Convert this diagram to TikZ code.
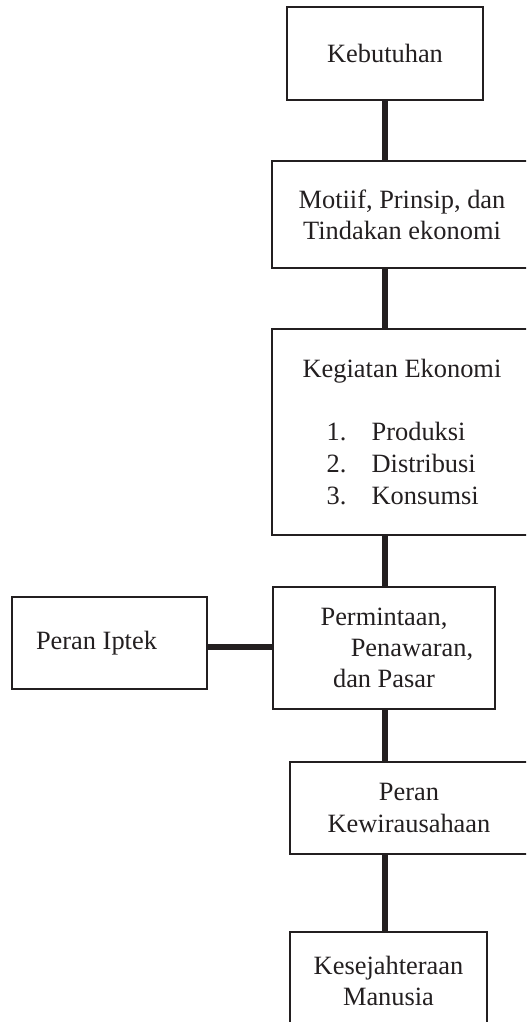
\documentclass[tikz,border=0pt]{standalone}
\usepackage{fontspec}
\setmainfont{Liberation Serif}
\definecolor{ink}{RGB}{35,31,32}
\begin{document}
\begin{tikzpicture}[x=0.75pt,y=-0.75pt,
  bx/.style 2 args={draw=ink, line width=1.6pt, rectangle, inner sep=0pt,
    minimum width=#1*0.75pt, minimum height=#2*0.75pt,
    font=\fontsize{19.8}{23.5}\selectfont, text=ink},
  conn/.style={draw=ink, line width=4.6pt}]
\useasboundingbox (0,0) rectangle (526,1022);
\clip (0,0) rectangle (526,1022);
\node[bx={196}{93}] (keb) at (385,53.5) {Kebutuhan};
\node[bx={260}{107}, align=center] (mot) at (402,214.5) {Motiif, Prinsip, dan\\Tindakan ekonomi};
\node[bx={260}{206}, align=left, font=\fontsize{19.8}{23.8}\selectfont] (keg) at (402,432)
  {Kegiatan Ekonomi\\[23.8pt]
   \hspace*{18pt}\makebox[33.75pt][l]{1.}Produksi\\
   \hspace*{18pt}\makebox[33.75pt][l]{2.}Distribusi\\
   \hspace*{18pt}\makebox[33.75pt][l]{3.}Konsumsi};
\node[bx={222}{122}, align=center] (perm) at (384,648) {Permintaan,\\\hspace*{42pt}Penawaran,\\dan Pasar};
\node[bx={195}{92}] (ipt) at (109.5,643) {Peran Iptek\hspace*{19.5pt}};
\node[bx={238}{92}, align=center] (kew) at (409,808) {Peran\\Kewirausahaan};
\node[bx={197}{98}, align=center] (kes) at (388.5,981) {Kesejahteraan\\Manusia};
\draw[conn] (keb.south) -- (keb.south |- mot.north);
\draw[conn] (keb.south |- mot.south) -- (keb.south |- keg.north);
\draw[conn] (keb.south |- keg.south) -- (keb.south |- perm.north);
\draw[conn] (keb.south |- perm.south) -- (keb.south |- kew.north);
\draw[conn] (keb.south |- kew.south) -- (keb.south |- kes.north);
\draw[conn] (ipt.east |- 0,647) -- (perm.west |- 0,647);
\end{tikzpicture}
\end{document}
